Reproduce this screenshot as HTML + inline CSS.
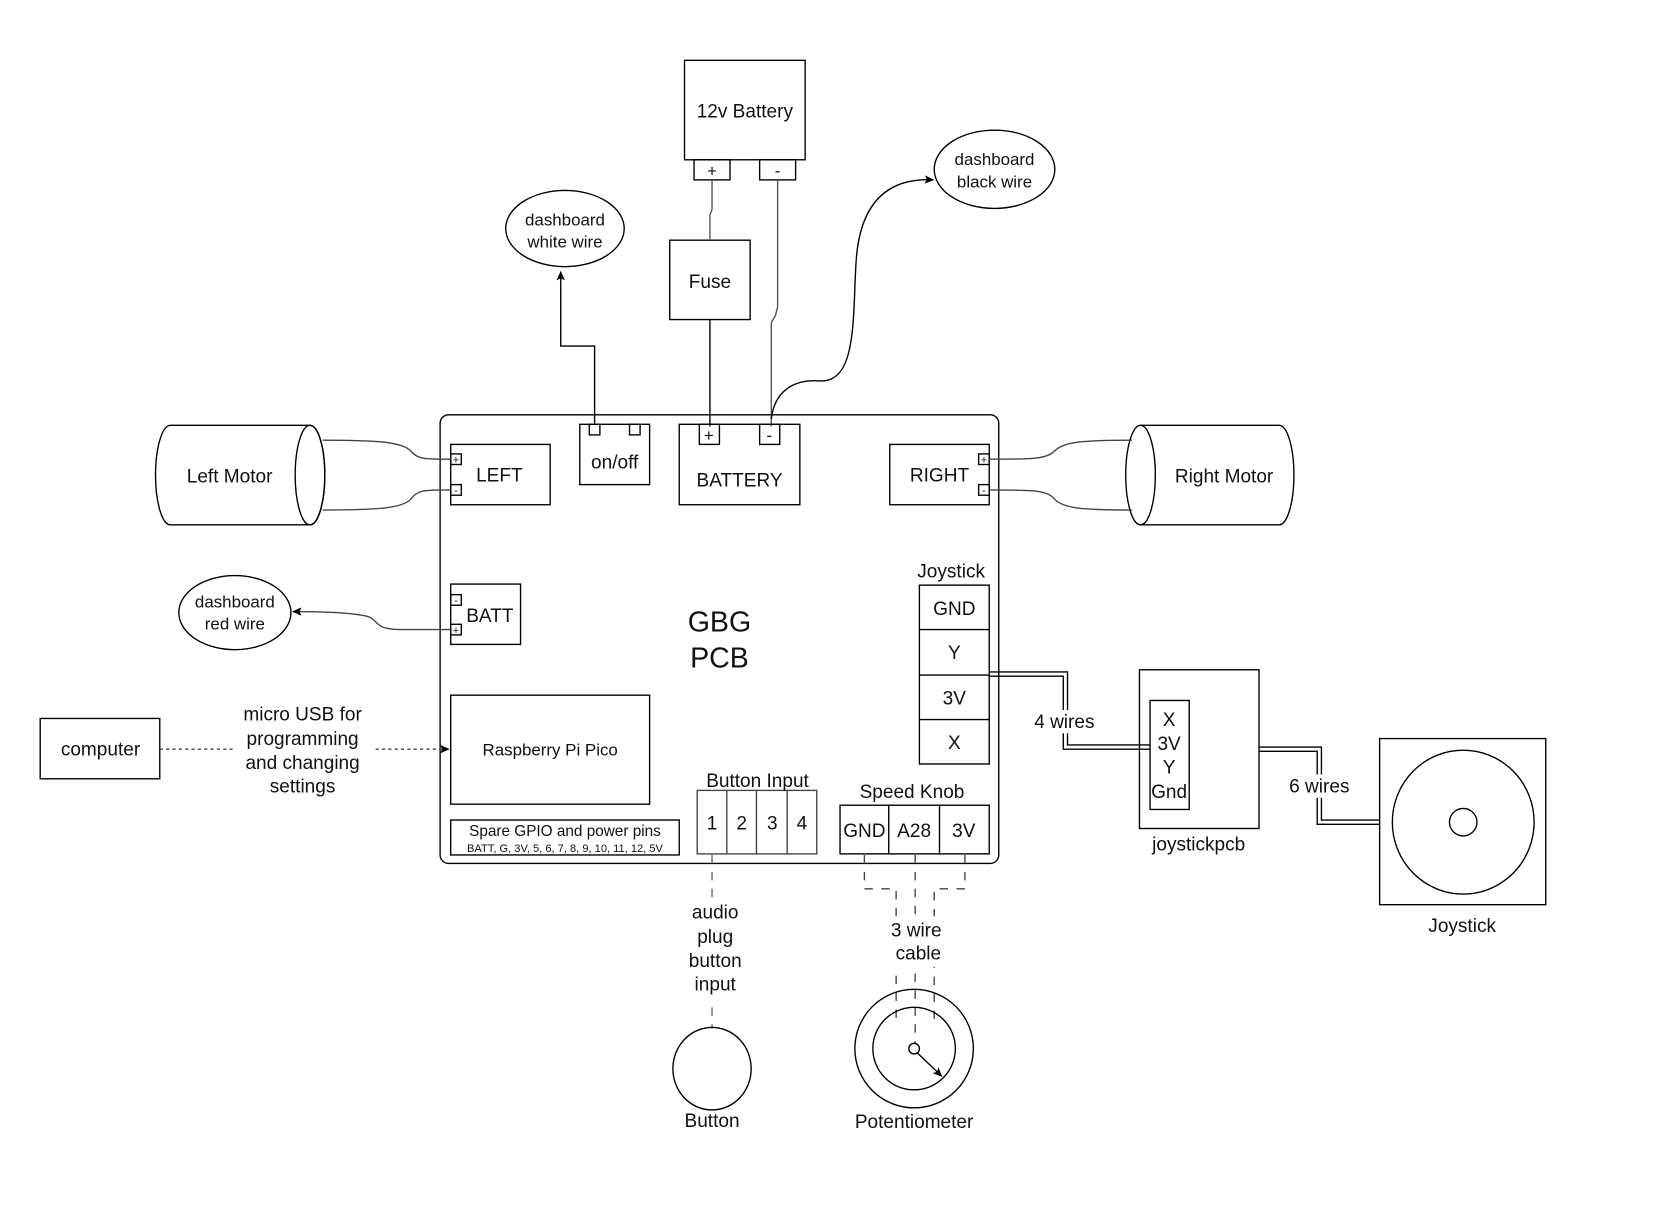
<!DOCTYPE html>
<html><head><meta charset="utf-8"><style>
html,body{margin:0;padding:0;background:#fff;}
svg{display:block;}
text{font-family:"Liberation Sans",Arial,sans-serif;fill:#111;text-anchor:middle;}
</style></head><body>
<svg width="1660" height="1220" viewBox="0 0 1569 1153" preserveAspectRatio="none" xmlns="http://www.w3.org/2000/svg">
<defs>
<marker id="ar" markerWidth="10" markerHeight="10" refX="8" refY="5" orient="auto" markerUnits="userSpaceOnUse">
<path d="M0,1 L9,5 L0,9 L2,5 Z" fill="#000"/></marker>
</defs>
<g fill="none" stroke="#000" stroke-width="1.3">
<rect x="416" y="392" width="528" height="424" rx="8"/>
<rect x="647" y="57" width="114" height="94"/>
<rect x="656" y="151" width="34" height="19"/>
<rect x="718" y="151" width="34" height="19"/>
<rect x="633" y="227" width="76" height="75"/>
<path d="M673,170 L673,198 L671,203 L671,227" stroke="#555"/>
<path d="M671,302 L671,403"/>
<path d="M735,170 L735,290 L733,298 L729,305 L729,403" stroke="#555"/>
<rect x="642" y="401" width="114" height="76"/>
<rect x="661" y="401" width="19" height="19"/>
<rect x="718" y="401" width="19" height="19"/>
<rect x="548" y="401" width="66" height="57"/>
<rect x="557" y="401" width="10" height="10"/>
<rect x="595" y="401" width="10" height="10"/>
<path d="M562,401 L562,327 L530,327 L530,257" marker-end="url(#ar)"/>
<ellipse cx="534" cy="216" rx="56" ry="36"/>
<path d="M729,396 C732,370 750,358 775,360 C810,362 806,300 809,250 C812,190 840,168 882,170" marker-end="url(#ar)"/>
<ellipse cx="940" cy="160" rx="57" ry="37"/>
<rect x="426" y="420" width="94" height="57"/>
<rect x="426" y="429" width="10" height="10"/>
<rect x="426" y="458" width="10" height="10"/>
<path d="M161,402 L293,402 A14,47 0 0 1 293,496 L161,496 A14,47 0 0 1 161,402 Z"/>
<ellipse cx="293" cy="449" rx="14" ry="47"/>
<path d="M305,416 C360,416 380,418 388,426 C395,434 400,434 426,434" stroke="#444"/>
<path d="M305,482 C360,482 380,480 388,472 C395,463 400,463 426,463" stroke="#444"/>
<rect x="841" y="420" width="94" height="57"/>
<rect x="925" y="429" width="10" height="10"/>
<rect x="925" y="458" width="10" height="10"/>
<path d="M1078,402 L1209,402 A14,47 0 0 1 1209,496 L1078,496"/>
<ellipse cx="1078" cy="449" rx="14" ry="47"/>
<path d="M935,434 C975,434 990,434 997,426 C1005,418 1020,416 1070,416" stroke="#444"/>
<path d="M935,463 C975,463 990,463 997,472 C1005,480 1020,482 1070,482" stroke="#444"/>
<rect x="426" y="552" width="66" height="57"/>
<rect x="426" y="562" width="10" height="10"/>
<rect x="426" y="590" width="10" height="10"/>
<path d="M426,595 L380,595 C350,595 360,585 345,582 C330,579 300,578 277,578" stroke="#444" marker-end="url(#ar)"/>
<ellipse cx="222" cy="579" rx="53" ry="35"/>
<rect x="426" y="657" width="188" height="103"/>
<rect x="426" y="775" width="216" height="33"/>
<rect x="38" y="679" width="113" height="57"/>
<path d="M151,708 L424,708" stroke-dasharray="3,3" stroke="#444" marker-end="url(#ar)"/>
<rect x="869" y="553" width="66" height="169"/>
<path d="M869,595 H935 M869,638 H935 M869,680 H935"/>
<rect x="659" y="747" width="113" height="60" stroke="#444"/>
<path d="M687,747 V807 M715,747 V807 M744,747 V807" stroke="#444"/>
<rect x="794" y="761" width="141" height="46"/>
<path d="M840,761 V807 M888,761 V807"/>
<rect x="1077" y="633" width="113" height="150"/>
<rect x="1087" y="662" width="37" height="103"/>
<path d="M935,635 H1009 V704 H1087 M935,639 H1005 V708 H1087"/>
<path d="M1190,706 H1249 V775 H1304 M1190,710 H1245 V779 H1304"/>
<rect x="1304" y="698" width="157" height="157"/>
<ellipse cx="1383" cy="777" rx="67" ry="68"/>
<circle cx="1383" cy="777" r="13"/>
<path d="M673,808 V972" stroke="#666" stroke-dasharray="8,8"/>
<ellipse cx="673" cy="1010" rx="37" ry="39"/>
<path d="M817,808 V840 H847 V965 M865,808 V986 M912,808 V840 H883 V968" stroke="#444" stroke-dasharray="8,8"/>
<circle cx="864" cy="991" r="56"/>
<circle cx="864" cy="991" r="39"/>
<circle cx="864" cy="991" r="5" fill="#fff"/>
<path d="M867,995 L890,1017" marker-end="url(#ar)"/>
</g>
<rect x="220" y="663" width="132" height="92" fill="#fff"/>
<rect x="972" y="671" width="70" height="22" fill="#fff"/>
<rect x="1214" y="732" width="66" height="22" fill="#fff"/>
<rect x="648" y="850" width="56" height="94" fill="#fff"/>
<rect x="834" y="866" width="64" height="48" fill="#fff"/>
<g font-size="10">
<text x="431" y="438">+</text><text x="431" y="467">-</text>
<text x="930" y="438">+</text><text x="930" y="467">-</text>
<text x="431" y="571">-</text><text x="431" y="599">+</text>
</g>
<g font-size="18">
<text x="704" y="111">12v Battery</text>
<text x="673" y="167" font-size="16">+</text>
<text x="735" y="167" font-size="16">-</text>
<text x="671" y="272">Fuse</text>
<text x="534" y="213" font-size="16">dashboard</text>
<text x="534" y="234" font-size="16">white wire</text>
<text x="940" y="156" font-size="16">dashboard</text>
<text x="940" y="177" font-size="16">black wire</text>
<text x="670" y="417" font-size="16">+</text>
<text x="727" y="417" font-size="16">-</text>
<text x="699" y="460">BATTERY</text>
<text x="581" y="443">on/off</text>
<text x="472" y="455">LEFT</text>
<text x="888" y="455">RIGHT</text>
<text x="217" y="456">Left Motor</text>
<text x="1157" y="456">Right Motor</text>
<text x="463" y="588">BATT</text>
<text x="222" y="574" font-size="16">dashboard</text>
<text x="222" y="595" font-size="16">red wire</text>
<text x="680" y="597" font-size="27">GBG</text>
<text x="680" y="631" font-size="27">PCB</text>
<text x="520" y="714" font-size="16">Raspberry Pi Pico</text>
<text x="534" y="790" font-size="14.5">Spare GPIO and power pins</text>
<text x="534" y="805" font-size="10.5">BATT, G, 3V, 5, 6, 7, 8, 9, 10, 11, 12, 5V</text>
<text x="95" y="714">computer</text>
<text x="286" y="681">micro USB for</text>
<text x="286" y="704">programming</text>
<text x="286" y="727">and changing</text>
<text x="286" y="749">settings</text>
<text x="899" y="546">Joystick</text>
<text x="902" y="581">GND</text>
<text x="902" y="623">Y</text>
<text x="902" y="666">3V</text>
<text x="902" y="708">X</text>
<text x="716" y="744">Button Input</text>
<text x="673" y="784">1</text>
<text x="701" y="784">2</text>
<text x="730" y="784">3</text>
<text x="758" y="784">4</text>
<text x="862" y="754">Speed Knob</text>
<text x="817" y="791">GND</text>
<text x="864" y="791">A28</text>
<text x="911" y="791">3V</text>
<text x="1006" y="688">4 wires</text>
<text x="1247" y="749">6 wires</text>
<text x="1105" y="686">X</text>
<text x="1105" y="709">3V</text>
<text x="1105" y="731">Y</text>
<text x="1105" y="754">Gnd</text>
<text x="1133" y="804">joystickpcb</text>
<text x="1382" y="881">Joystick</text>
<text x="676" y="868">audio</text>
<text x="676" y="891">plug</text>
<text x="676" y="914">button</text>
<text x="676" y="936">input</text>
<text x="673" y="1065">Button</text>
<text x="866" y="885">3 wire</text>
<text x="868" y="907">cable</text>
<text x="864" y="1066">Potentiometer</text>
</g>
</svg>
</body></html>
